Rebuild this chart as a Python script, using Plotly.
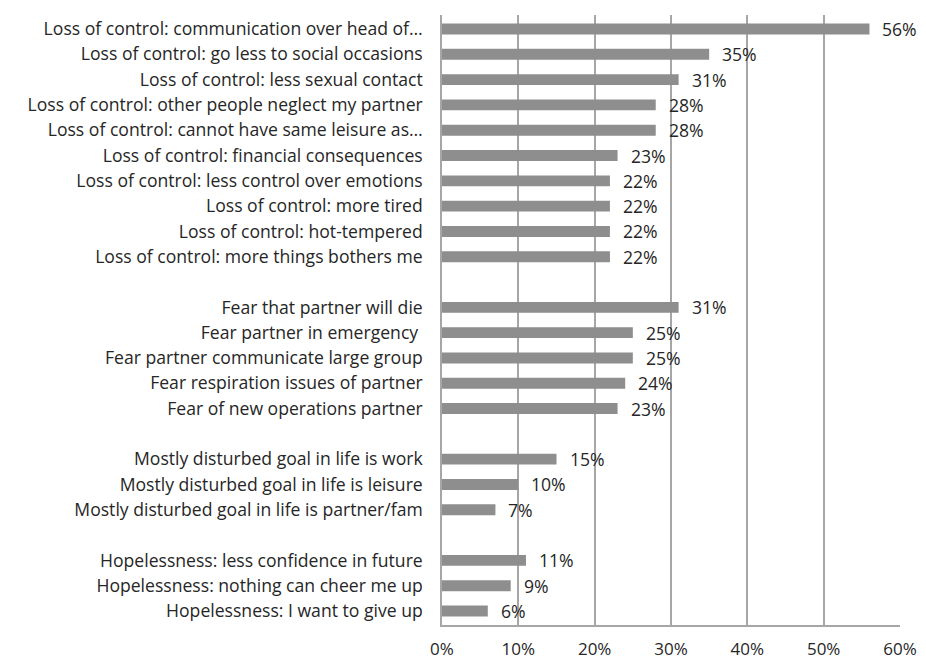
import plotly.graph_objects as go

loss_labels = [
    "Loss of control: communication over head of…",
    "Loss of control: go less to social occasions",
    "Loss of control: less sexual contact",
    "Loss of control: other people neglect my partner",
    "Loss of control: cannot have same leisure as…",
    "Loss of control: financial consequences",
    "Loss of control: less control over emotions",
    "Loss of control: more tired",
    "Loss of control: hot-tempered",
    "Loss of control: more things bothers me",
]
loss_values = [0.56, 0.35, 0.31, 0.28, 0.28, 0.23, 0.22, 0.22, 0.22, 0.22]

fear_labels = [
    "Fear that partner will die",
    "Fear partner in emergency ",
    "Fear partner communicate large group",
    "Fear respiration issues of partner",
    "Fear of new operations partner",
]
fear_values = [0.31, 0.25, 0.25, 0.24, 0.23]

goal_labels = [
    "Mostly disturbed goal in life is work",
    "Mostly disturbed goal in life is leisure",
    "Mostly disturbed goal in life is partner/fam",
]
goal_values = [0.15, 0.10, 0.07]

hope_labels = [
    "Hopelessness: less confidence in future",
    "Hopelessness: nothing can cheer me up",
    "Hopelessness: I want to give up",
]
hope_values = [0.11, 0.09, 0.06]

x_ticks = [0, 0.1, 0.2, 0.3, 0.4, 0.5, 0.6]

# blank rows between groups (unique names so they stay separate categories)
categories = loss_labels + [" "] + fear_labels + ["  "] + goal_labels + ["   "] + hope_labels
values = loss_values + [None] + fear_values + [None] + goal_values + [None] + hope_values

font = "'Open Sans', 'Noto Sans', sans-serif"
fsize = 17.6

fig = go.Figure(go.Bar(
    x=values,
    y=categories,
    orientation="h",
    marker=dict(color="#8e8e8e", line=dict(width=0)),
))

for cat, v in zip(categories, values):
    if v is None:
        continue
    fig.add_annotation(
        x=v, y=cat, text=f"{round(v * 100)}%",
        xanchor="left", yanchor="middle", xshift=11, showarrow=False,
        font=dict(family=font, size=fsize, color="#262626"),
    )

# page body adds an 8px offset; right edge gets cut around 918px on screen
fig.update_layout(
    width=918, height=653,
    margin=dict(l=434, r=26, t=7, b=36),
    paper_bgcolor="white", plot_bgcolor="white",
    bargap=0.57,
    showlegend=False,
    font=dict(family=font, size=fsize, color="#262626"),
)
fig.update_xaxes(
    range=[0, 0.6], tickvals=x_ticks, tickformat=".0%",
    tickfont=dict(size=17),
    showgrid=True, gridcolor="#a6a6a6", gridwidth=1.5,
    showline=True, linecolor="#a6a6a6", linewidth=1.5,
    zeroline=False, ticks="", ticklabelstandoff=8, automargin=False,
)
fig.update_yaxes(
    categoryorder="array", categoryarray=categories, autorange="reversed",
    showgrid=False, showline=True, linecolor="#a6a6a6", linewidth=1.5,
    ticks="", ticklabelstandoff=14, automargin=False,
)

fig.write_html("out.html")
